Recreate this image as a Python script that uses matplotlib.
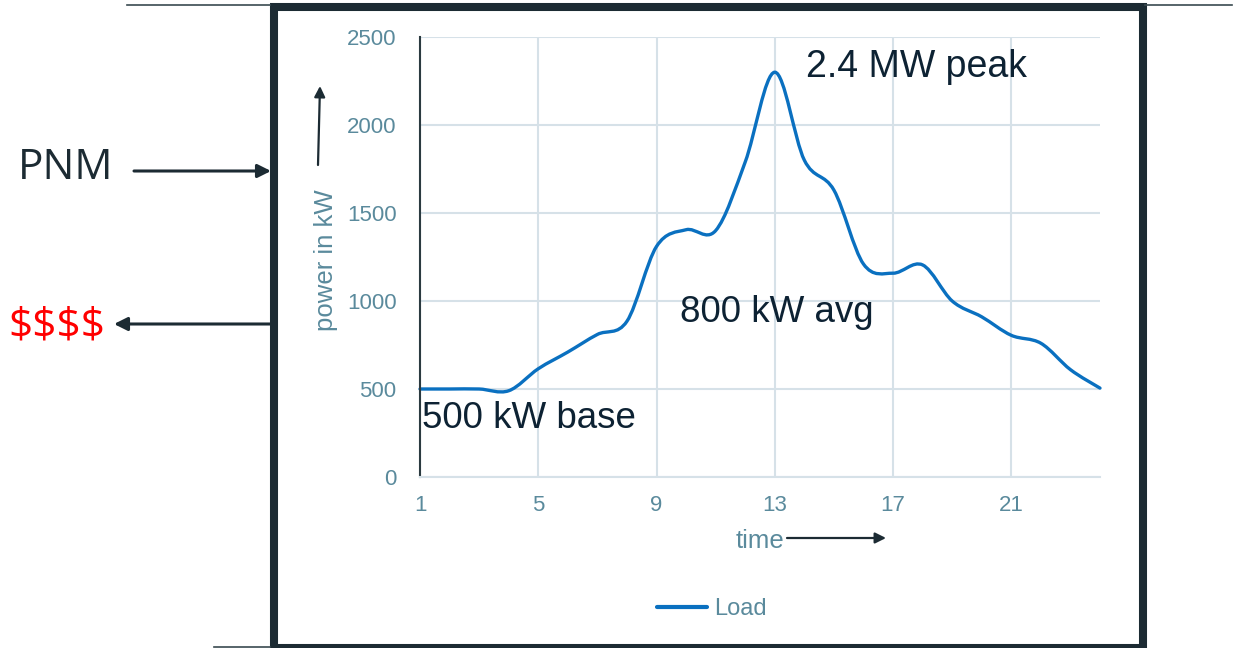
import matplotlib
matplotlib.use("Agg")
import matplotlib.pyplot as plt
from matplotlib.path import Path
from matplotlib.patches import PathPatch, Rectangle, FancyArrowPatch
from matplotlib.lines import Line2D
import numpy as np

hours = list(range(1, 25))
load_kw = [500, 500, 500, 490, 615, 710, 810, 885, 1310, 1405, 1400, 1790,
           2300, 1800, 1630, 1210, 1158, 1205, 1000, 910, 805, 760, 610, 505]
x_ticks = [1, 5, 9, 13, 17, 21]
y_ticks = [0, 500, 1000, 1500, 2000, 2500]

W, H = 1253, 648
fig = plt.figure(figsize=(W / 100, H / 100), dpi=100)
fig.patch.set_facecolor("white")

def fx(px):
    return px / W

def fy(py):
    return 1 - py / H

ax = fig.add_axes([fx(420), fy(477), fx(1100) - fx(420), fy(37) - fy(477)])
ax.set_xlim(1, 24)
ax.set_ylim(0, 2500)
ax.set_xticks(x_ticks)
ax.set_yticks(y_ticks)
tick_col = "#5a8a9c"
grid_col = "#d6e1e8"
ax.tick_params(axis="both", length=0, labelsize=16, labelcolor=tick_col,
               labelfontfamily="Liberation Sans")
ax.tick_params(axis="y", pad=17)
ax.tick_params(axis="x", pad=13)
ax.grid(True, color=grid_col, linewidth=1.5)
ax.set_axisbelow(True)
for s in ["top", "right"]:
    ax.spines[s].set_visible(False)
ax.spines["bottom"].set_color(grid_col)
ax.spines["bottom"].set_linewidth(1.5)
ax.spines["left"].set_color("#2b3a40")
ax.spines["left"].set_linewidth(1.5)

# smoothed line (Excel style Bezier through data points)
xs = np.array(hours, dtype=float)
ys = np.array(load_kw, dtype=float)
n = len(xs)
verts = [(xs[0], ys[0])]
codes = [Path.MOVETO]
for i in range(n - 1):
    p0 = np.array([xs[max(i - 1, 0)], ys[max(i - 1, 0)]])
    p1 = np.array([xs[i], ys[i]])
    p2 = np.array([xs[i + 1], ys[i + 1]])
    p3 = np.array([xs[min(i + 2, n - 1)], ys[min(i + 2, n - 1)]])
    c1 = p1 + (p2 - p0) / 6
    c2 = p2 - (p3 - p1) / 6
    verts += [tuple(c1), tuple(c2), tuple(p2)]
    codes += [Path.CURVE4] * 3
line_col = "#0a70c0"
ax.add_patch(PathPatch(Path(verts, codes), fill=False, edgecolor=line_col,
                       linewidth=2.4, capstyle="round", joinstyle="round",
                       clip_on=False))

txt_col = "#0d2233"
ax.text(14.05, 2330, "2.4 MW peak", fontsize=27, color=txt_col,
        family="Liberation Sans", va="center", ha="left")
ax.text(9.8, 935, "800 kW avg", fontsize=26.5, color=txt_col,
        family="Liberation Sans", va="center", ha="left")
ax.text(1.07, 335, "500 kW base", fontsize=26.5, color=txt_col,
        family="Liberation Sans", va="center", ha="left")

# axis titles
fig.text(fx(326), fy(260), "power in kW", rotation=90, fontsize=18.5,
         color=tick_col, family="Liberation Sans", ha="center", va="center")
fig.text(fx(760), fy(541), "time", fontsize=18.5, color=tick_col,
         family="Liberation Sans", ha="center", va="center")

arrow_col = "#1c2b33"

def farrow(x0, y0, x1, y1, lw=1.6, ms=16):
    a = FancyArrowPatch((fx(x0), fy(y0)), (fx(x1), fy(y1)),
                        transform=fig.transFigure, arrowstyle="-|>",
                        mutation_scale=ms, color=arrow_col, linewidth=lw,
                        shrinkA=0, shrinkB=0)
    fig.add_artist(a)

farrow(318, 165, 320, 86)
farrow(787, 538, 886, 538)
farrow(134, 171, 271, 171, lw=2.2, ms=20)
farrow(270, 324, 114, 324, lw=2.2, ms=20)

fig.text(fx(66), fy(168), "PNM", fontsize=30.5, color="#1c2b33",
         family="Open Sans", ha="center", va="center")
fig.text(fx(57), fy(326), "$$$$", fontsize=30.5, color="#ff0000",
         family="Open Sans", ha="center", va="center", parse_math=False)

# legend
handle = Line2D([0], [0], color=line_col, linewidth=3, solid_capstyle="round")
leg = fig.legend([handle], ["Load"], loc="center", bbox_to_anchor=(fx(712), fy(609)),
                 frameon=False, handlelength=2.1, handletextpad=0.3,
                 prop={"family": "Liberation Sans", "size": 17})
for t in leg.get_texts():
    t.set_color(tick_col)

# outer frame and thin lines
fig.add_artist(Rectangle((fx(274), fy(648)), fx(1143) - fx(274), fy(7) - fy(648),
                         transform=fig.transFigure, fill=False,
                         edgecolor=arrow_col, linewidth=5.8))
for (a, b, yy) in [(127, 270, 5), (1145, 1232, 5), (214, 270, 647)]:
    fig.add_artist(Line2D([fx(a), fx(b)], [fy(yy), fy(yy)], transform=fig.transFigure,
                          color="#3a4a50", linewidth=1.2))

fig.savefig("out.png", dpi=100, facecolor="white")
